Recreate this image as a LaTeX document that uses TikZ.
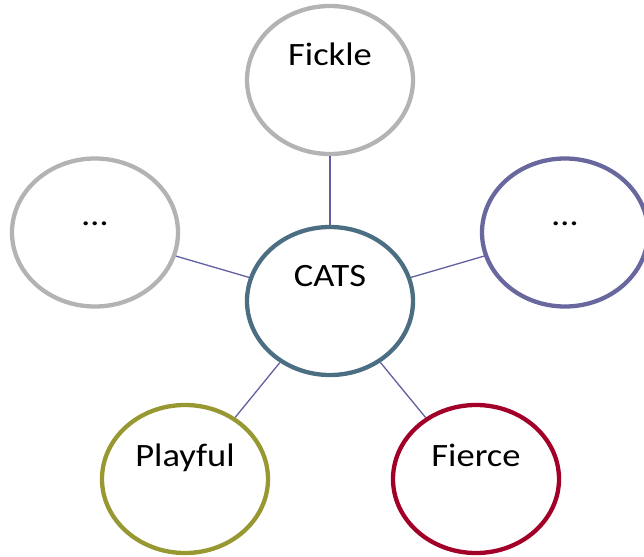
\documentclass[tikz,border=0pt]{standalone}
\usepackage{fontspec}
\setmainfont{Carlito}
\usetikzlibrary{shapes.geometric}
\definecolor{ringgray}{RGB}{179,179,179}
\definecolor{ringlav}{RGB}{104,104,158}
\definecolor{ringsteel}{RGB}{75,110,130}
\definecolor{ringolive}{RGB}{152,152,50}
\definecolor{ringred}{RGB}{162,0,40}
\definecolor{linkcol}{RGB}{96,96,160}
\tikzset{
  bubble/.style={ellipse, draw, line width=4.3pt, fill=white, inner sep=0pt,
    minimum width=166pt, minimum height=148pt},
  word/.style={anchor=base, inner sep=0pt, font=\fontsize{32.6}{36}\selectfont},
  link/.style={draw=linkcol, line width=1.3pt}
}
\newcommand{\wide}[1]{\scalebox{1.12}[1]{#1}}
\begin{document}
\begin{tikzpicture}[x=1pt, y=-1pt]
  \useasboundingbox (0,0) rectangle (644,556);
  % outer ring of bubbles
  \node[bubble, draw=ringgray]  (fickle)  at (330,80)    {};
  \node[bubble, draw=ringgray]  (left)    at (95,232.5)  {};
  \node[bubble, draw=ringlav]   (right)   at (565,232.5) {};
  \node[bubble, draw=ringsteel] (cats)    at (330,301)   {};
  \node[bubble, draw=ringolive] (playful) at (185,479)   {};
  \node[bubble, draw=ringred]   (fierce)  at (476,479)   {};
  % spokes from the hub
  \draw[link] (fickle)  -- (cats);
  \draw[link] (left)    -- (cats);
  \draw[link] (right)   -- (cats);
  \draw[link] (playful) -- (cats);
  \draw[link] (fierce)  -- (cats);
  % labels
  \node[word] (tfickle)  at (330,66)  {\wide{Fickle}};
  \node[word] (tleft)    at (95,225)  {\wide{…}};
  \node[word] (tright)   at (565,225) {\wide{…}};
  \node[word] (tcats)    at (330,286) {\wide{CATS}};
  \node[word] (tplayful) at (185,466) {\wide{Playful}};
  \node[word] (tfierce)  at (476,466) {\wide{Fierce}};
\end{tikzpicture}
\end{document}
